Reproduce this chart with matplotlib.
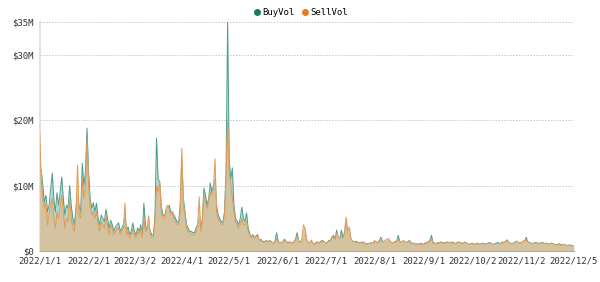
import pandas as pd
from matplotlib import pyplot as plt
import matplotlib.dates as mdates

# daily volume in $M, 2022-01-01 .. 2022-12-05
buy_vol = [
    12.0, 12.5, 10.0, 7.5, 8.5, 6.0, 7.0, 9.5, 11.9, 8.0,
    6.0, 8.9, 7.0, 9.0, 11.3, 8.0, 5.5, 7.0, 6.5, 10.0,
    7.0, 5.0, 4.0, 6.5, 8.0, 7.0, 6.0, 13.4, 10.0, 12.0,
    18.8, 12.0, 8.0, 6.5, 7.4, 6.0, 7.3, 5.0, 4.0, 5.5,
    5.0, 4.5, 6.4, 5.0, 3.5, 4.7, 4.0, 3.0, 3.7, 4.0,
    4.3, 3.0, 3.5, 4.0, 5.0, 3.0, 3.7, 2.5, 3.0, 4.3,
    3.0, 2.5, 3.5, 3.0, 4.0, 2.5, 7.3, 4.0, 3.0, 4.0,
    3.0, 2.5, 2.4, 5.0, 17.3, 11.0, 10.6, 7.0, 5.4, 5.5,
    6.0, 6.5, 7.0, 6.0, 6.0, 5.5, 5.0, 4.5, 4.3, 7.0,
    14.0, 8.0, 6.0, 4.0, 3.5, 3.0, 3.0, 2.8, 2.8, 3.5,
    4.0, 5.0, 3.0, 5.0, 9.6, 8.5, 7.0, 8.0, 10.4, 9.0,
    10.0, 11.0, 7.0, 5.5, 5.0, 4.5, 4.3, 6.0, 12.0, 35.0,
    14.0, 11.0, 12.7, 7.0, 5.0, 4.6, 4.0, 5.0, 6.7, 5.0,
    4.5, 5.8, 3.5, 2.7, 2.1, 2.5, 2.0, 2.3, 2.5, 1.6,
    1.8, 1.5, 1.4, 1.5, 1.6, 1.4, 1.6, 1.3, 1.2, 1.5,
    2.8, 1.5, 1.2, 1.3, 1.4, 1.8, 1.5, 1.2, 1.4, 1.3,
    1.2, 1.4, 1.8, 2.8, 1.5, 1.3, 1.5, 2.0, 2.5, 1.4,
    1.2, 1.3, 1.5, 1.2, 1.0, 1.3, 1.4, 1.2, 1.5, 1.6,
    1.4, 1.2, 1.3, 1.6, 1.5, 2.0, 2.4, 1.8, 3.2, 2.0,
    1.8, 3.2, 2.0, 2.5, 4.6, 2.5, 2.8, 1.8, 1.5, 1.4,
    1.5, 1.4, 1.3, 1.2, 1.4, 1.3, 1.2, 1.0, 1.2, 1.1,
    1.3, 1.2, 1.5, 1.4, 1.2, 1.6, 2.1, 1.5, 1.3, 1.4,
    1.5, 1.6, 1.3, 1.2, 1.3, 1.4, 1.5, 2.4, 1.4, 1.3,
    1.5, 1.4, 1.2, 1.4, 1.6, 1.3, 1.1, 1.2, 1.0, 1.1,
    1.0, 1.2, 1.1, 1.0, 1.2, 1.3, 1.4, 1.6, 2.4, 1.3,
    1.2, 1.1, 1.3, 1.2, 1.4, 1.2, 1.3, 1.2, 1.4, 1.3,
    1.2, 1.4, 1.3, 1.1, 1.2, 1.4, 1.3, 1.2, 1.1, 1.4,
    1.2, 1.1, 1.0, 1.1, 1.2, 1.0, 1.1, 1.2, 1.0, 1.1,
    1.1, 1.2, 1.0, 1.1, 1.2, 1.3, 1.1, 1.0, 1.1, 1.2,
    1.3, 1.1, 1.2, 1.4, 1.2, 1.5, 1.7, 1.3, 1.2, 1.1,
    1.2, 1.4, 1.5, 1.3, 1.2, 1.3, 1.4, 1.5, 2.1, 1.4,
    1.3, 1.2, 1.1, 1.2, 1.3, 1.2, 1.1, 1.2, 1.3, 1.2,
    1.1, 1.2, 1.0, 1.1, 1.2, 1.1, 1.0, 0.9, 1.0, 1.1,
    1.0, 0.9, 1.0, 0.9, 0.8, 0.9, 0.9, 0.8, 0.8,
]
sell_vol = [
    18.5, 11.0, 8.0, 6.5, 7.5, 4.0, 5.5, 7.0, 8.0, 5.0,
    3.5, 6.0, 5.0, 7.0, 8.5, 6.0, 3.5, 5.0, 4.5, 8.0,
    5.0, 3.5, 3.0, 6.0, 13.1, 5.5, 5.0, 11.0, 8.0, 10.0,
    17.0, 10.0, 7.0, 5.5, 6.0, 5.0, 6.0, 4.0, 3.0, 4.5,
    4.0, 3.5, 5.5, 4.0, 2.5, 4.0, 3.5, 2.5, 3.0, 3.5,
    3.5, 2.5, 3.0, 3.5, 7.3, 2.5, 3.0, 2.0, 2.5, 3.5,
    2.5, 2.0, 3.0, 2.5, 3.5, 2.0, 5.0, 3.0, 3.5, 5.4,
    2.5, 2.0, 2.0, 4.5, 10.0, 9.0, 10.6, 6.0, 5.0, 5.0,
    6.5, 7.0, 6.5, 5.5, 6.0, 5.0, 4.5, 4.0, 4.0, 6.0,
    15.7, 7.0, 5.5, 3.5, 3.0, 2.8, 2.5, 2.5, 2.5, 3.0,
    4.0, 8.3, 3.0, 4.5, 8.5, 7.5, 6.5, 7.5, 9.0, 8.5,
    9.5, 14.1, 6.0, 5.0, 4.5, 4.0, 4.0, 5.5, 11.0, 20.0,
    12.0, 10.0, 8.0, 6.0, 4.5, 4.0, 3.5, 4.0, 5.0, 4.0,
    4.0, 4.5, 3.0, 2.5, 2.0, 2.3, 2.0, 2.2, 2.3, 1.6,
    1.7, 1.4, 1.3, 1.5, 1.6, 1.4, 1.5, 1.3, 1.2, 1.4,
    1.8, 1.4, 1.2, 1.3, 1.4, 1.6, 1.5, 1.2, 1.3, 1.3,
    1.2, 1.4, 1.6, 2.2, 1.5, 1.3, 2.0, 4.0, 3.5, 1.8,
    1.4, 1.2, 1.7, 1.2, 1.0, 1.2, 1.3, 1.2, 1.4, 1.5,
    1.5, 1.2, 1.3, 1.5, 1.5, 2.2, 2.0, 1.8, 2.8, 2.2,
    2.0, 2.2, 2.0, 3.0, 5.2, 3.0, 3.7, 2.0, 1.5, 1.4,
    1.4, 1.3, 1.3, 1.2, 1.3, 1.2, 1.2, 1.0, 1.2, 1.1,
    1.3, 1.2, 1.6, 1.3, 1.2, 1.5, 1.6, 1.4, 1.5, 1.7,
    1.8, 1.9, 1.5, 1.2, 1.3, 1.3, 1.4, 1.8, 1.4, 1.3,
    1.6, 1.5, 1.3, 1.3, 1.5, 1.2, 1.1, 1.2, 1.0, 1.1,
    1.0, 1.1, 1.0, 1.0, 1.1, 1.2, 1.3, 1.5, 1.8, 1.2,
    1.2, 1.1, 1.2, 1.2, 1.3, 1.2, 1.2, 1.2, 1.3, 1.3,
    1.2, 1.3, 1.2, 1.1, 1.2, 1.3, 1.3, 1.2, 1.1, 1.3,
    1.2, 1.1, 1.0, 1.1, 1.1, 1.0, 1.1, 1.2, 1.0, 1.1,
    1.1, 1.2, 1.0, 1.1, 1.2, 1.2, 1.1, 1.0, 1.1, 1.1,
    1.2, 1.1, 1.2, 1.3, 1.2, 1.4, 1.6, 1.3, 1.2, 1.1,
    1.2, 1.3, 1.5, 1.3, 1.2, 1.3, 1.5, 1.6, 1.7, 1.4,
    1.3, 1.2, 1.1, 1.2, 1.2, 1.2, 1.1, 1.2, 1.2, 1.2,
    1.1, 1.2, 1.0, 1.1, 1.2, 1.1, 1.0, 0.9, 1.0, 1.0,
    0.9, 0.9, 1.0, 0.9, 0.8, 0.9, 0.8, 0.8, 0.8,
]
tick_dates = ['2022-01-01', '2022-02-01', '2022-03-02', '2022-04-01', '2022-05-01', '2022-06-01',
              '2022-07-01', '2022-08-01', '2022-09-01', '2022-10-02', '2022-11-02', '2022-12-05']
tick_labels = ['2022/1/1', '2022/2/1', '2022/3/2', '2022/4/1', '2022/5/1', '2022/6/1',
               '2022/7/1', '2022/8/1', '2022/9/1', '2022/10/2', '2022/11/2', '2022/12/5']
y_ticks = [0, 10, 20, 30, 35]
y_labels = ['$0', '$10M', '$20M', '$30M', '$35M']

dates = pd.date_range('2022-01-01', periods=len(buy_vol), freq='D')

fig = plt.figure(dpi=100, figsize=(6, 2.82))
ax = fig.add_axes([0.066, 0.110, 0.890, 0.812])

ax.fill_between(dates, buy_vol, color='#a9d8cf', alpha=0.95, lw=0, zorder=2)
ax.plot(dates, buy_vol, c='#4f9d8c', lw=0.7, zorder=3)
ax.fill_between(dates, sell_vol, color='#d8c19c', alpha=0.92, lw=0, zorder=4)
ax.plot(dates, sell_vol, c='#e39a55', lw=0.7, zorder=5)

# legend handles
ax.plot([], [], 'o', c='#1e7a5f', ms=4, label='BuyVol')
ax.plot([], [], 'o', c='#e27d26', ms=4, label='SellVol')
fig.legend(loc='upper center', bbox_to_anchor=(0.5, 1.0), ncol=2, frameon=False,
           prop={'family': 'DejaVu Sans Mono', 'size': 6.5}, handletextpad=0.1,
           columnspacing=0.6, handlelength=1.0)

ax.set_xlim(dates[0], dates[-1])
ax.set_ylim(0, 35)
ax.set_yticks(y_ticks)
ax.set_yticklabels(y_labels)
ax.set_xticks(pd.to_datetime(tick_dates))
ax.set_xticklabels(tick_labels)
for lab in ax.get_xticklabels() + ax.get_yticklabels():
    lab.set_fontfamily('DejaVu Sans Mono')
    lab.set_fontsize(6.5)
    lab.set_color('#333333')
ax.tick_params(axis='both', length=0, pad=4)

ax.grid(axis='y', linestyle=(0, (1.5, 1.5)), color='#c8c8c8', lw=0.7, zorder=0)
for s in ['top', 'right']:
    ax.spines[s].set_visible(False)
ax.spines['left'].set_color('#dddddd')
ax.spines['left'].set_linewidth(1.2)
ax.spines['bottom'].set_color('#999999')
ax.spines['bottom'].set_linewidth(0.8)

plt.savefig('out.png', dpi=100)
